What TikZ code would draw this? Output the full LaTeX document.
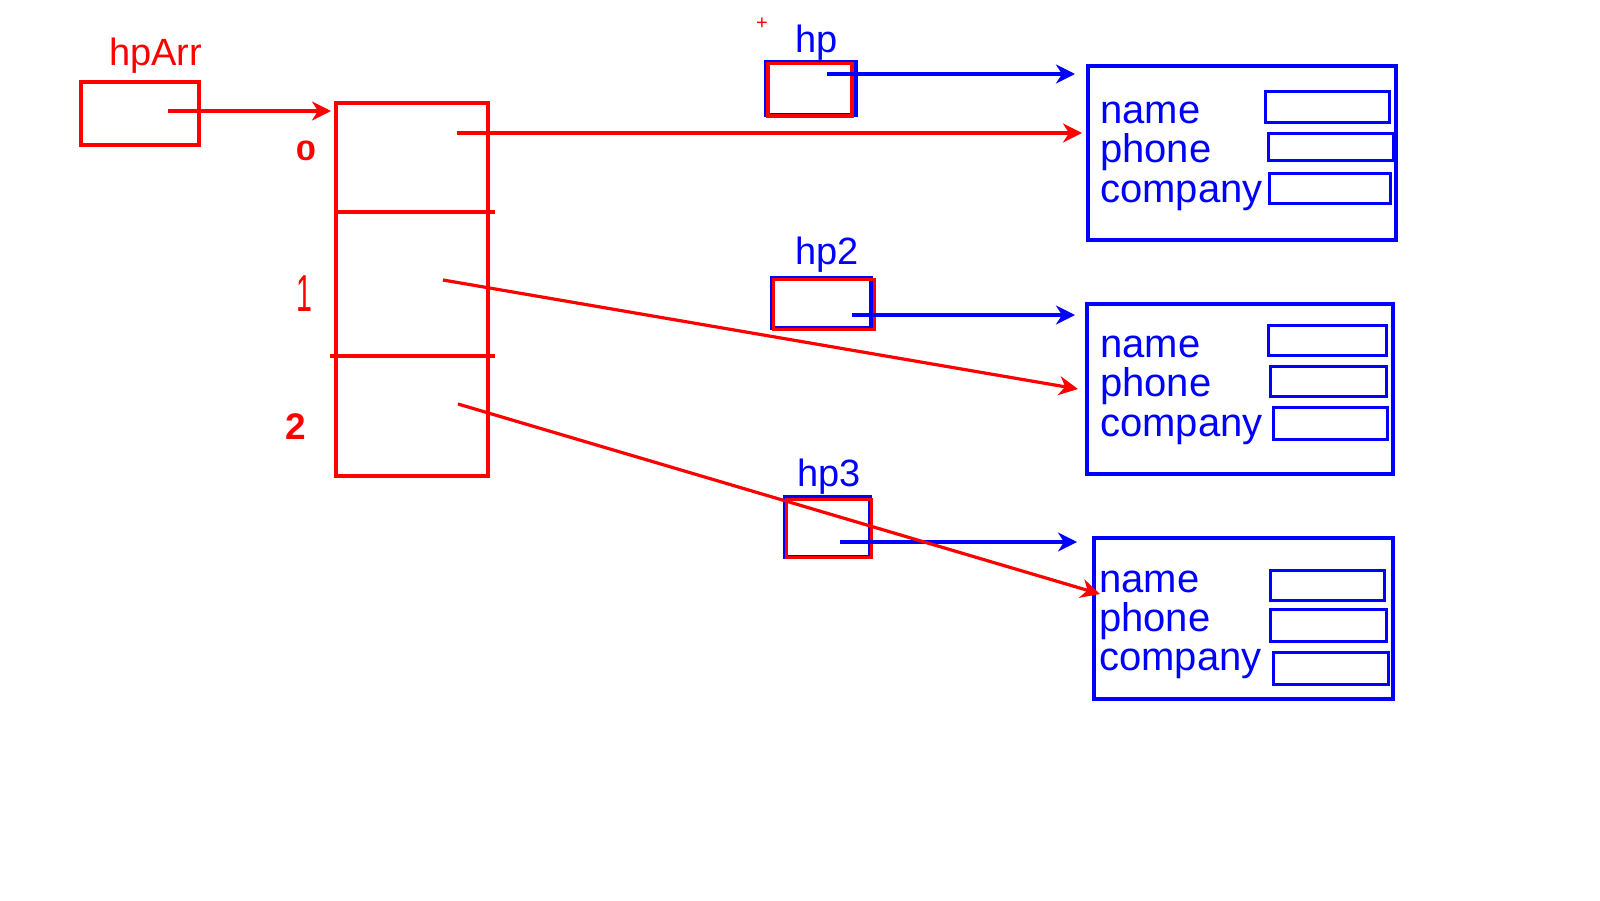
\documentclass[tikz,border=0pt]{standalone}
\usepackage{fontspec}
\setmainfont{Liberation Sans}
\usetikzlibrary{arrows.meta}
\definecolor{pr}{RGB}{255,0,0}
\definecolor{pb}{RGB}{0,0,255}
\newcommand\boxnode[6]{%
  \node[#1,minimum width={#5-#3},minimum height={#6-#4}] (#2) at ({(#3+#5)/2},{(#4+#6)/2}) {};}
\begin{document}
\begin{tikzpicture}[x=1pt,y=-1pt,
  rbox/.style={draw=pr,line width=3.6pt,inner sep=0pt,outer sep=0pt},
  bbox/.style={draw=pb,line width=4pt,inner sep=0pt,outer sep=0pt},
  fbox/.style={draw=pb,line width=3.6pt,inner sep=0pt,outer sep=0pt},
  rline/.style={draw=pr,line width=3.4pt},
  rarrow/.style={draw=pr,line width=3.2pt,-{Stealth[length=19pt,width=19pt,inset=6pt]}},
  barrow/.style={draw=pb,line width=3.4pt,-{Stealth[length=19pt,width=19pt,inset=6pt]}},
  rlbl/.style={text=pr,inner sep=0pt,anchor=base west,font=\fontsize{38}{40}\selectfont},
  blbl/.style={text=pb,inner sep=0pt,anchor=base west,font=\fontsize{38}{40}\selectfont},
  fld/.style={text=pb,inner sep=0pt,anchor=base west,font=\fontsize{40}{42}\selectfont},
  ]
\useasboundingbox[fill=white] (0,0) rectangle (1600,900);

% hpArr
\node[rlbl] (tArr) at (109,65) {hpArr};
\boxnode{rbox}{hpArr}{81}{82}{199}{145}
\coordinate (sArr) at (168,111);
\coordinate (eArr) at (331,111);

% array
\boxnode{rbox}{arr}{336}{103}{488}{476}
\draw[rline] (arr.west |- 0,212) -- (495,212);
\draw[rline] (330,356) -- (495,356);
\node[text=pr,inner sep=0pt,font=\bfseries\fontsize{28}{30}\selectfont] (i0) at (306,151) {\scalebox{1.3}[1]{0}};
\node[text=pr,inner sep=0pt,font=\fontsize{52}{54}\selectfont] (i1) at (304,294) {\scalebox{0.55}[1]{1}};
\node[text=pr,inner sep=0pt,font=\bfseries\fontsize{37}{40}\selectfont] (i2) at (296,427) {2};
\coordinate (s0) at (457,133);
\coordinate (s1) at (443,280);
\coordinate (s2) at (458,404);

% pointer variables
\node[text=pr,inner sep=0pt,font=\fontsize{20}{20}\selectfont] (plus) at (762,24) {+};
\node[blbl] (thp) at (795,52) {hp};
\boxnode{bbox}{hpB}{765.5}{61.5}{855.5}{114.5}
\boxnode{rbox}{hpR}{767.7}{63.3}{851.7}{115.7}
\coordinate (shp) at (827,74);

\node[blbl] (thp2) at (795,264) {hp2};
\boxnode{bbox}{hp2B}{771.5}{277.5}{870.5}{327.5}
\boxnode{rbox}{hp2R}{773.5}{279.5}{874.5}{329.5}
\coordinate (shp2) at (852,315);

\node[blbl] (thp3) at (797,486) {hp3};
\boxnode{bbox}{hp3B}{784.5}{496.5}{869.5}{556.5}
\boxnode{rbox}{hp3R}{786.5}{499.5}{871.5}{557.5}
\coordinate (shp3) at (840,542);

% structs
\boxnode{bbox}{S1}{1088}{66}{1396}{240}
\node[fld] (n1) at (1100,123) {name};
\node[fld] (p1) at (1100,162) {phone};
\node[fld] (c1) at (1100,202) {company};
\boxnode{fbox}{S1a}{1265.6}{91.6}{1389.4}{122.4}
\boxnode{fbox}{S1b}{1268.6}{133.6}{1393.4}{160.4}
\boxnode{fbox}{S1c}{1269.6}{173.6}{1390.4}{203.4}

\boxnode{bbox}{S2}{1087}{304}{1393}{474}
\node[fld] (n2) at (1100,357) {name};
\node[fld] (p2) at (1100,396) {phone};
\node[fld] (c2) at (1100,436) {company};
\boxnode{fbox}{S2a}{1268.6}{325.6}{1386.4}{355.4}
\boxnode{fbox}{S2b}{1270.6}{366.6}{1386.4}{396.4}
\boxnode{fbox}{S2c}{1273.6}{407.6}{1387.4}{439.4}

\boxnode{bbox}{S3}{1094}{538}{1393}{699}
\node[fld] (n3) at (1099,592) {name};
\node[fld] (p3) at (1099,631) {phone};
\node[fld] (c3) at (1099,670) {company};
\boxnode{fbox}{S3a}{1270.6}{570.6}{1384.4}{600.4}
\boxnode{fbox}{S3b}{1270.6}{609.6}{1386.4}{641.4}
\boxnode{fbox}{S3c}{1273.6}{652.6}{1388.4}{684.4}

% blue pointers
\coordinate (e1) at (1075,74);
\coordinate (e2) at (1075,315);
\coordinate (e3) at (1077,542);
\draw[barrow] (shp) -- (e1);
\draw[barrow] (shp2) -- (e2);
\draw[barrow] (shp3) -- (e3);

% red pointers
\coordinate (r0) at (1082,133);
\coordinate (r1) at (1078,389);
\coordinate (r2) at (1100,594);
\draw[rarrow] (sArr) -- (eArr);
\draw[rarrow] (s0) -- (r0);
\draw[rarrow] (s1) -- (r1);
\draw[rarrow] (s2) -- (r2);
\end{tikzpicture}
\end{document}
